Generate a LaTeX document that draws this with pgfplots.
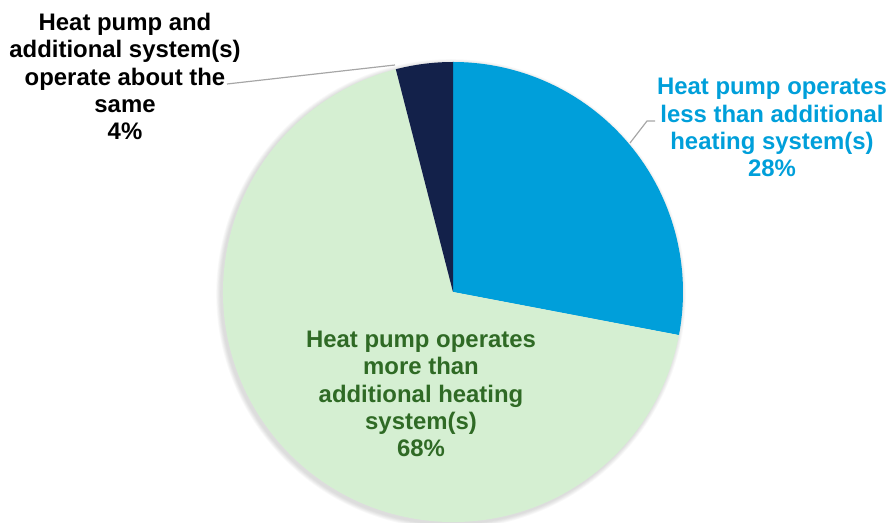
\documentclass[border=0pt]{standalone}
\usepackage{pgfplots}
\usepackage{pgfplotstable}
\pgfplotsset{compat=1.18}
\usepackage{fontspec}
\setmainfont{Liberation Sans}

\definecolor{sliceBlue}{HTML}{009FDA}
\definecolor{sliceGreen}{HTML}{D5EFD2}
\definecolor{sliceNavy}{HTML}{13214A}
\definecolor{txtGreen}{HTML}{2F6A25}
\definecolor{leader}{HTML}{A6A6A6}

% share of households, clockwise from 12 o'clock
\pgfplotstableread{
part value
less 28
more 68
same 4
}\piedata

\begin{document}
\begin{tikzpicture}
\pgfplotstablegetelem{0}{value}\of\piedata \let\vA\pgfplotsretval
\pgfplotstablegetelem{1}{value}\of\piedata \let\vB\pgfplotsretval
\pgfplotstablegetelem{2}{value}\of\piedata \let\vC\pgfplotsretval
\pgfmathsetmacro\aA{90-3.6*\vA}
\pgfmathsetmacro\aB{\aA-3.6*\vB}
\pgfmathsetmacro\aC{\aB-3.6*\vC}
\begin{axis}[
    width=891bp, height=523bp, scale only axis,
    xmin=0, xmax=891, ymin=0, ymax=523,
    axis lines=none, clip=false,
    font=\bfseries\fontsize{24}{27.5}\selectfont,
]
\coordinate (ll) at (axis cs:0,0);
\coordinate (ur) at (axis cs:891,523);
% soft shadow
\pgfplotsinvokeforeach{1,...,6}{
  \fill[black, opacity=0.025] (axis cs:451,229) circle[radius={230bp+#1*0.8bp}];
}
\fill[sliceBlue] (axis cs:453,231) -- ++(90:230bp) arc[start angle=90, end angle=\aA, radius=230bp] -- cycle;
\fill[sliceGreen] (axis cs:453,231) -- ++(\aA:230bp) arc[start angle=\aA, end angle=\aB, radius=230bp] -- cycle;
\fill[sliceNavy] (axis cs:453,231) -- ++(\aB:230bp) arc[start angle=\aB, end angle=\aC, radius=230bp] -- cycle;

\draw[leader, line width=1.2pt] (axis cs:227,439) -- (axis cs:395,458);
\draw[leader, line width=1.2pt] (axis cs:655,402) -- (axis cs:647,402) -- (axis cs:630,380);

% anchor=base is the baseline of the last line
\node[align=center, anchor=base, inner sep=0pt] at (axis cs:125,383)
  {Heat pump and\\additional system(s)\\operate about the\\same\\4\%};
\node[align=center, anchor=base, inner sep=0pt, text=sliceBlue] at (axis cs:772,346)
  {Heat pump operates\\less than additional\\heating system(s)\\28\%};
\node[align=center, anchor=base, inner sep=0pt, text=txtGreen] at (axis cs:421,66)
  {Heat pump operates\\more than\\additional heating\\system(s)\\68\%};
\end{axis}
\pgfresetboundingbox
\useasboundingbox (ll) rectangle (ur);
\end{tikzpicture}
\end{document}
